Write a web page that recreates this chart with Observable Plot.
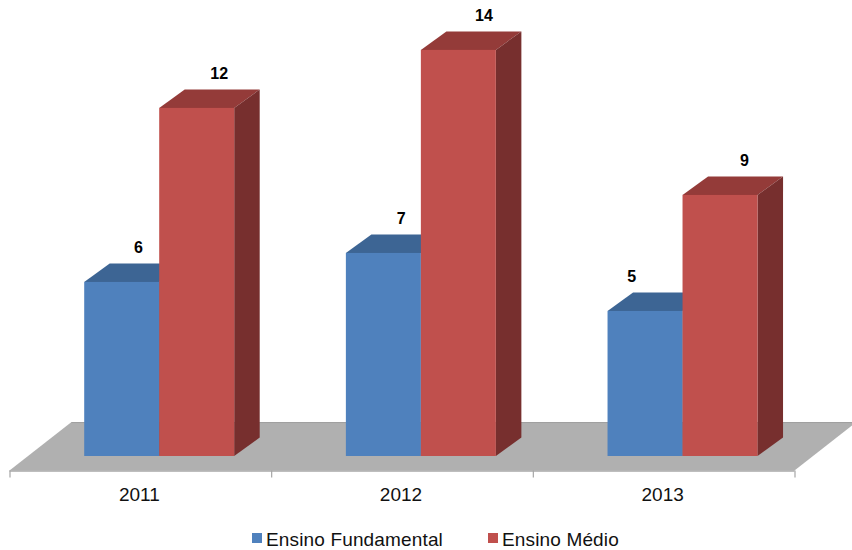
<!DOCTYPE html>
<html><head><meta charset="utf-8">
<script src="https://cdn.jsdelivr.net/npm/d3@7"></script>
<script src="https://cdn.jsdelivr.net/npm/@observablehq/plot@0.6"></script>
<style>
html,body{margin:0;padding:0;background:#fff}
#legend{height:25px;position:relative;font:19px "Liberation Sans",Arial,sans-serif;color:#111;white-space:nowrap;letter-spacing:.15px}
#legend span.k{position:absolute;top:8px;width:10px;height:10px}
#legend span.t{position:absolute;top:4px;line-height:21px}
</style></head><body>
<div id="chart"></div><div id="legend"></div>
<script>
const categories = ["2011","2012","2013"];
const seriesNames = ["Ensino Fundamental","Ensino Médio"];
const fundamental = [6,7,5];
const medio = [12,14,9];

// chart geometry in scale units (x: one unit per category, y: value)
const barStart = 0.2855, barW = 0.2866, depthX = 0.0975, depthY = 0.636;
const floorFront = -0.5, floorBack = 1.17, floorSkew = 0.237;
const colors = [
  {front:"#4F81BD", top:"#3D6594", side:"#2F4F75"},
  {front:"#C0504D", top:"#943B39", side:"#772F2E"}
];
const labelShift = [[0.062,0.066,-0.053],[0.084,0.096,0.091]];
const values = [fundamental, medio];

const bars = values.flatMap((vals,s)=>vals.map((v,i)=>({
  s, i, v, id:`${s}-${i}`,
  x1:i+barStart+s*barW, x2:i+barStart+(s+1)*barW,
  lx:i+barStart+s*barW+barW/2+labelShift[s][i]
})));
const sideFaces = bars.flatMap(b=>[
  {s:b.s,id:b.id,x:b.x2,y1:0,y2:b.v},
  {s:b.s,id:b.id,x:b.x2+depthX,y1:depthY,y2:b.v+depthY}]);
const topFaces = bars.flatMap(b=>[
  {s:b.s,id:b.id,y:b.v,x1:b.x1,x2:b.x2},
  {s:b.s,id:b.id,y:b.v+depthY,x1:b.x1+depthX,x2:b.x2+depthX}]);

const floor = [
  {y:floorFront,x1:0,x2:3},
  {y:floorBack,x1:floorSkew,x2:3+floorSkew}
];

const marks = [
  Plot.areaX(floor,{y:"y",x1:"x1",x2:"x2",fill:"#B0B0B0"}),
  Plot.ruleY([floorFront],{x1:0,x2:3,stroke:"#A8A8A8",strokeWidth:1.5}),
  Plot.ruleY([floorBack],{x1:floorSkew,x2:3+floorSkew,stroke:"#A0A0A0",strokeWidth:1}),
  Plot.ruleX([0,1,2,3],{y1:floorFront,y2:floorFront-0.24,stroke:"#A6A6A6",strokeWidth:1.2})
];
[0,1].forEach(s=>{
  const c = colors[s];
  marks.push(
    Plot.areaX(topFaces.filter(d=>d.s===s),{y:"y",x1:"x1",x2:"x2",z:"id",fill:c.top}),
    Plot.areaY(sideFaces.filter(d=>d.s===s),{x:"x",y1:"y1",y2:"y2",z:"id",fill:c.side}),
    Plot.rect(bars.filter(d=>d.s===s),{x1:"x1",x2:"x2",y1:0,y2:"v",fill:c.front})
  );
});
marks.push(
  Plot.text(bars,{x:"lx",y:d=>d.v+depthY,dy:-16.5,text:d=>String(d.v),fontSize:16,fontWeight:"bold",fill:"#000"}),
  Plot.text(categories,{x:(d,i)=>i+0.5,y:floorFront,dy:24,dx:-1.5,text:d=>d,fontSize:19,fill:"#111"})
);

const chart = Plot.plot({
  width:852,height:525,
  marginTop:0,marginLeft:9.5,marginRight:57.5,marginBottom:69,
  x:{domain:[0,3],axis:null},
  y:{domain:[0,15.72],axis:null},
  style:{fontFamily:'"Liberation Sans",Arial,sans-serif',background:"#fff"},
  marks
});
document.getElementById("chart").appendChild(chart);
chart.style.display="block";

const lg = document.getElementById("legend");
const keyX=[252,488], txtX=[266,502];
seriesNames.forEach((n,s)=>{
  const k=document.createElement("span");k.className="k";k.style.left=keyX[s]+"px";k.style.background=colors[s].front;lg.appendChild(k);
  const t=document.createElement("span");t.className="t";t.style.left=txtX[s]+"px";t.textContent=n;lg.appendChild(t);
});
</script></body></html>
